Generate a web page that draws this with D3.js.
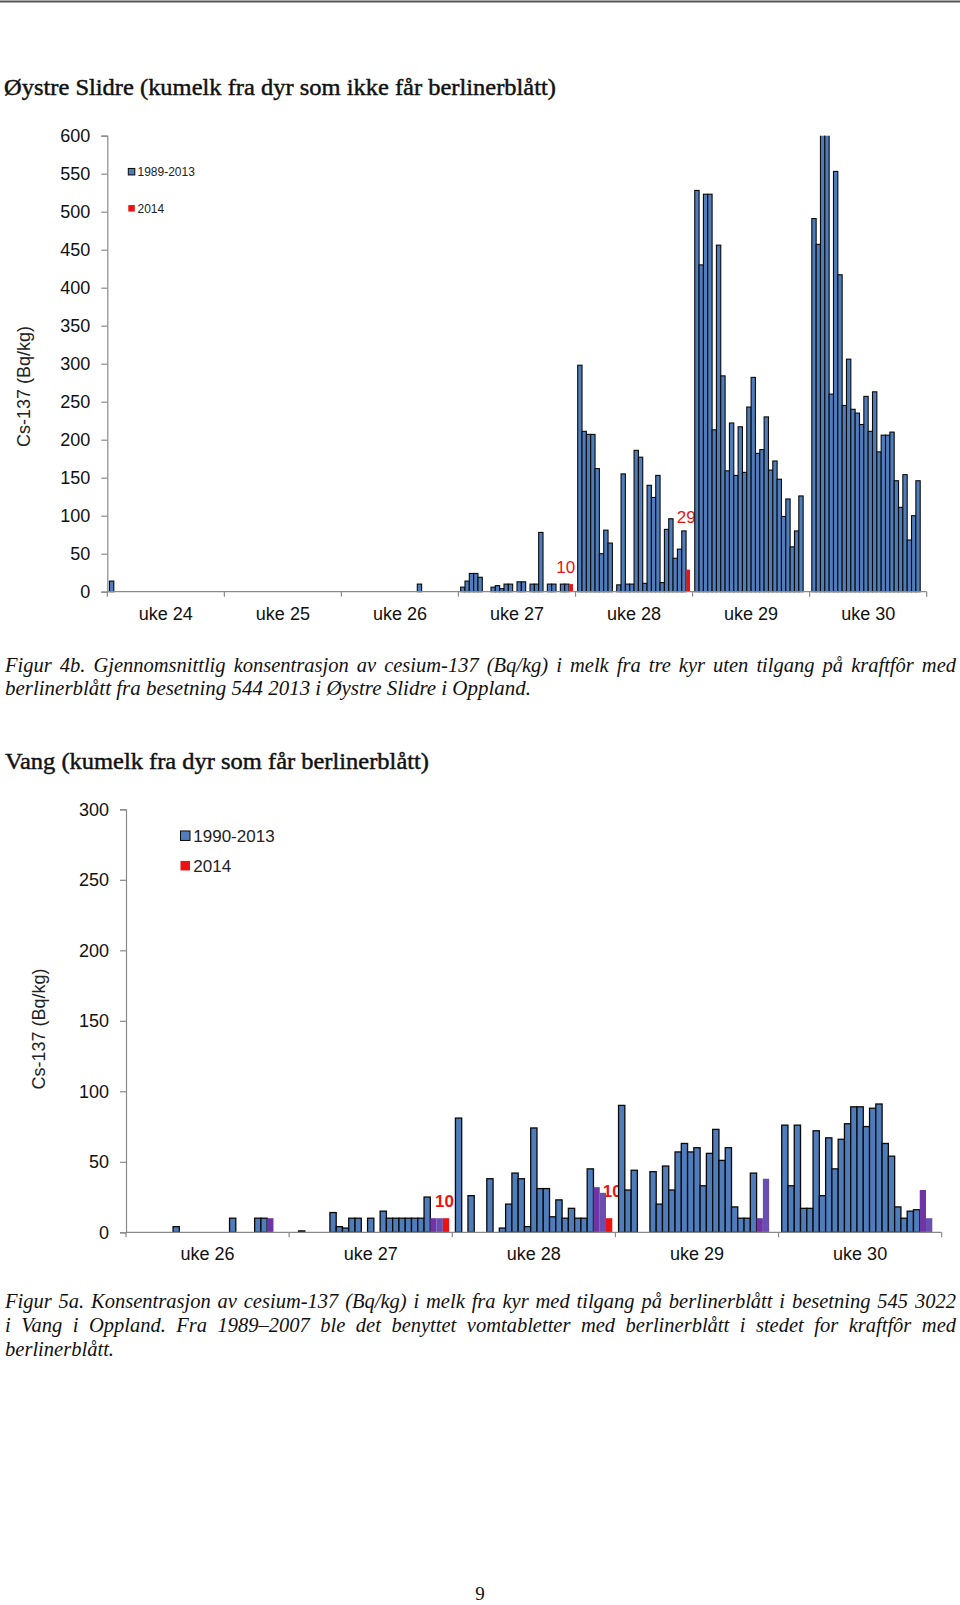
<!DOCTYPE html>
<html><head><meta charset="utf-8">
<script src="https://cdn.jsdelivr.net/npm/d3@7"></script>
<style>
body{margin:0;background:#fff;}
svg{display:block;}
</style></head><body>
<svg id="page" width="960" height="1605"></svg>
<script>
const _ = null;

// ---------- Figure 4b: Øystre Slidre ----------
const slidreWeeks = ["uke 24","uke 25","uke 26","uke 27","uke 28","uke 29","uke 30"];
const slidreTicks = [0,50,100,150,200,250,300,350,400,450,500,550,600];
// values per week, one per measurement slot (null = no measurement), 1989-2013
const slidreHist = [
  [14],
  [],
  [_,_,_,_,_,_,_,_,_,_,_,_,_,_,_,_,_,10],
  [6,14,24,24,19,_,_,6,8,4,10,10,_,13,13,_,10,10,78,_,10,10,_,10,10],
  [298,211,207,207,162,50,81,64,_,9,155,10,10,186,177,11,140,124,153,12,82,96,44,56,80],
  [528,430,523,523,213,456,284,159,222,153,217,157,243,282,182,187,230,160,172,148,99,122,59,80,126],
  [491,457,640,640,260,553,417,245,306,240,235,220,257,211,263,184,206,206,210,146,111,154,68,100,146]
];
// 2014 value per week (last slot of the week)
const slidre2014 = [_,_,_,10,29,_,_];
const slidreLegend = ["1989-2013","2014"];

// ---------- Figure 5a: Vang ----------
const vangWeeks = ["uke 26","uke 27","uke 28","uke 29","uke 30"];
const vangTicks = [0,50,100,150,200,250,300];
const vangHist = [
  [_,_,_,_,_,_,_,4,_,_,_,_,_,_,_,_,10,_,_,_,10,10],
  [_,1,_,_,_,_,14,4,3,10,10,_,10,_,15,10,10,10,10,10,10,25],
  [81,_,26,_,_,38,_,3,20,42,38,4,74,31,31,11,23,10,17,10,10,45],
  [90,30,44,_,_,43,20,47,30,57,63,57,60,33,56,73,51,60,18,10,10,42],
  [76,33,76,17,17,72,26,67,45,66,77,89,89,75,88,91,63,54,18,10,15,16]
];
const vangPurpleA = [10,10,32,10,30];
const vangPurpleB = [_,10,28,38,10];
const vang2014 = [_,10,10,_,_];
const vangLegend = ["1990-2013","2014"];

const BLUE = "#4f7cba", RED = "#ee1111", PURPLE_A = "#7134a4", PURPLE_B = "#6a4fb3";

const svg = d3.select("#page");
svg.append("line").attr("x1",0).attr("x2",960).attr("y1",1.5).attr("y2",1.5)
   .attr("stroke","#555").attr("stroke-width",2);

function addText(x, y, str, size, opts) {
  opts = opts || {};
  const t = svg.append("text").attr("x", x).attr("y", y).text(str)
    .attr("font-family", opts.family || "'Liberation Serif', 'DejaVu Serif', serif")
    .attr("font-size", size)
    .attr("font-style", opts.italic ? "italic" : "normal")
    .attr("fill", "#111");
  if (opts.heavy) t.attr("stroke", "#111").attr("stroke-width", opts.heavy);
  if (opts.anchor) t.attr("text-anchor", opts.anchor);
  if (opts.target) {
    const w = t.node().getComputedTextLength();
    const spaces = (str.match(/ /g) || []).length;
    if (opts.justify && w < opts.target && spaces > 0) {
      t.attr("word-spacing", (opts.target - w) / spaces);
    } else {
      t.attr("textLength", opts.target).attr("lengthAdjust", "spacingAndGlyphs");
    }
  }
  return t;
}

function barChart(cfg) {
  const g = svg.append("g");
  const nW = cfg.weeks.length, spw = cfg.slotsPerWeek;
  const x = d3.scaleLinear().domain([0, nW * spw]).range([cfg.x0, cfg.x1]);
  const y = d3.scaleLinear().domain([0, cfg.yMax]).range([cfg.yBase, cfg.yTop]);
  const sw = x(1) - x(0);
  const font = "'Liberation Sans', Arial, sans-serif";

  // flatten bars
  const bars = [];
  cfg.hist.forEach((arr, wi) => arr.forEach((v, s) => { if (v != null) bars.push({wi, s, v, fill: BLUE, stroke: true}); }));
  cfg.extra.forEach(ser => ser.values.forEach((v, wi) => {
    if (v != null) bars.push({wi, s: ser.slot, v, fill: ser.color, stroke: false, narrow: ser.narrow});
  }));

  // y axis
  const yAxis = d3.axisLeft(y).tickValues(cfg.yTicks).tickSize(cfg.tickLen).tickPadding(cfg.tickPad);
  const ya = g.append("g").attr("transform", `translate(${cfg.x0},0)`).call(yAxis);
  ya.select(".domain").attr("stroke", "#8a8a8a").attr("stroke-width", 1.2);
  ya.selectAll(".tick line").attr("stroke", "#8a8a8a").attr("stroke-width", 1.2);
  ya.selectAll(".tick text").attr("font-family", font).attr("font-size", cfg.fontSize).attr("fill", "#111");

  // axis title
  g.append("text").attr("transform", `translate(${cfg.titleX},${cfg.titleY}) rotate(-90)`)
    .attr("text-anchor", "middle").attr("font-family", font).attr("font-size", 18)
    .attr("fill", "#222").text("Cs-137 (Bq/kg)");

  // annotation labels (under bars)
  cfg.labels.forEach(l => {
    const bx = x(l.wi * spw + l.slot + 1);
    g.append("text").attr("x", bx + l.dx).attr("y", y(l.value) + l.dy)
      .attr("text-anchor", "middle").attr("font-family", font).attr("font-size", 17)
      .attr("font-weight", l.bold ? "bold" : "normal").attr("fill", RED).text(l.value);
  });

  // bars
  const clipId = cfg.id + "-clip";
  g.append("clipPath").attr("id", clipId).append("rect")
    .attr("x", cfg.x0 - 2).attr("y", cfg.yTop).attr("width", cfg.x1 - cfg.x0 + 4)
    .attr("height", cfg.yBase - cfg.yTop + 2);
  g.append("g").attr("clip-path", `url(#${clipId})`).selectAll("rect").data(bars).join("rect")
    .attr("x", d => x(d.wi * spw + d.s + 0.5) + (d.narrow ? 0.4 : 0))
    .attr("width", d => sw - (d.narrow ? 0.8 : 0))
    .attr("y", d => y(d.v))
    .attr("height", d => y(0) - y(d.v))
    .attr("fill", d => d.fill)
    .attr("stroke", d => d.stroke ? "#0a0a0a" : "none")
    .attr("stroke-width", cfg.barStroke);

  // x axis
  g.append("line").attr("x1", cfg.x0).attr("x2", cfg.x1).attr("y1", cfg.yBase).attr("y2", cfg.yBase)
    .attr("stroke", "#8a8a8a").attr("stroke-width", 1.2);
  g.selectAll(".wk-tick").data(d3.range(nW + 1)).join("line")
    .attr("x1", i => x(i * spw)).attr("x2", i => x(i * spw))
    .attr("y1", cfg.yBase).attr("y2", cfg.yBase + 5)
    .attr("stroke", "#8a8a8a").attr("stroke-width", 1.2);
  g.selectAll(".wk-label").data(cfg.weeks).join("text")
    .attr("x", (d, i) => x(i * spw + spw / 2)).attr("y", cfg.weekLabelY)
    .attr("text-anchor", "middle").attr("font-family", font).attr("font-size", cfg.fontSize)
    .attr("fill", "#111").text(d => d);

  // legend
  const L = cfg.legend;
  g.append("rect").attr("x", L.x).attr("y", L.y1 - L.size / 2).attr("width", L.size).attr("height", L.size)
    .attr("fill", BLUE).attr("stroke", "#0a0a0a").attr("stroke-width", 1);
  g.append("rect").attr("x", L.x).attr("y", L.y2 - L.size / 2).attr("width", L.size).attr("height", L.size)
    .attr("fill", RED);
  [[cfg.legendText[0], L.y1], [cfg.legendText[1], L.y2]].forEach(([t, cy]) => {
    g.append("text").attr("x", L.tx).attr("y", cy + L.font * 0.36).attr("font-family", font)
      .attr("font-size", L.font).attr("fill", "#222").text(t);
  });
}

// Title 1
addText(4, 95, "Øystre Slidre (kumelk fra dyr som ikke får berlinerblått)", 23, {target: 552, heavy: 0.45});

barChart({
  id: "slidre", weeks: slidreWeeks, slotsPerWeek: 27,
  x0: 107.3, x1: 926.7, yTop: 135.7, yBase: 591.7, yMax: 600, yTicks: slidreTicks,
  tickLen: 6, tickPad: 11, fontSize: 18, weekLabelY: 619.5, barStroke: 1.1,
  titleX: 29.5, titleY: 386.5,
  hist: slidreHist,
  extra: [{values: slidre2014, slot: 25, color: RED, narrow: true}],
  labels: [{wi: 3, slot: 25, value: 10, dx: -5.5, dy: -11.5}, {wi: 4, slot: 25, value: 29, dx: -2, dy: -47}],
  legend: {x: 128.3, y1: 171.7, y2: 208.3, size: 6.5, tx: 137.5, font: 12},
  legendText: slidreLegend
});

addText(5, 671.5, "Figur 4b. Gjennomsnittlig konsentrasjon av cesium-137 (Bq/kg) i melk fra tre kyr uten tilgang på kraftfôr med", 20.5, {italic: true, target: 951, justify: true});
addText(5, 695, "berlinerblått fra besetning 544 2013 i Øystre Slidre i Oppland.", 20.5, {italic: true, target: 526});

// Title 2
addText(5, 769, "Vang (kumelk fra dyr som får berlinerblått)", 23, {target: 424, heavy: 0.45});

barChart({
  id: "vang", weeks: vangWeeks, slotsPerWeek: 26,
  x0: 126, x1: 941.7, yTop: 809.3, yBase: 1232.3, yMax: 300, yTicks: vangTicks,
  tickLen: 6, tickPad: 11, fontSize: 18, weekLabelY: 1259.5, barStroke: 1.3,
  titleX: 45, titleY: 1029,
  hist: vangHist,
  extra: [{values: vangPurpleA, slot: 22, color: PURPLE_A}, {values: vangPurpleB, slot: 23, color: PURPLE_B},
          {values: vang2014, slot: 24, color: RED}],
  labels: [{wi: 1, slot: 24, value: 10, dx: -1.5, dy: -11.5, bold: true}, {wi: 2, slot: 24, value: 10, dx: 3, dy: -21.5, bold: true}],
  legend: {x: 180.5, y1: 835.7, y2: 865.7, size: 9.5, tx: 193.3, font: 17},
  legendText: vangLegend
});

addText(5, 1308, "Figur 5a. Konsentrasjon av cesium-137 (Bq/kg) i melk fra kyr med tilgang på berlinerblått i besetning 545 3022", 20.5, {italic: true, target: 951, justify: true});
addText(5, 1332, "i Vang i Oppland. Fra 1989–2007 ble det benyttet vomtabletter med berlinerblått i stedet for kraftfôr med", 20.5, {italic: true, target: 951, justify: true});
addText(5, 1356, "berlinerblått.", 20.5, {italic: true, target: 109});

addText(480, 1600, "9", 19, {anchor: "middle"});
</script>
</body></html>
